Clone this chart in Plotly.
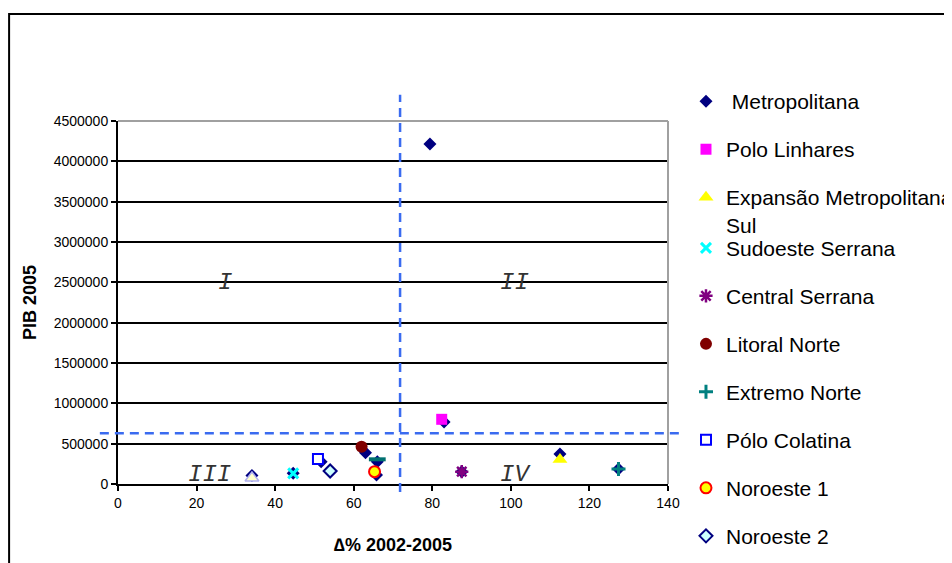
import plotly.graph_objects as go

# ---------------- data ----------------
regions = ["Metropolitana", "Polo Linhares", "Expansão Metropolitana Sul",
           "Sudoeste Serrana", "Central Serrana", "Litoral Norte",
           "Extremo Norte", "Pólo Colatina", "Noroeste 1", "Noroeste 2",
           "Polo Cachoeiro", "Caparaó"]

# series "Metropolitana": one navy diamond per region
metro_x = [79.4, 83.0, 112.5, 44.6, 87.5, 63.0, 127.4, 51.7, 65.8, 54.0, 34.1, 66.0]
metro_y = [4215000, 770000, 372000, 132000, 153000, 388000, 186000, 277000,
           112000, 161000, 105000, 277000]

# single-point series, one per region (index 1..11)
region_x = [79.4, 82.4, 112.5, 44.6, 87.5, 62.0, 127.4, 50.9, 65.3, 54.0, 34.1, 66.0]
region_y = [4215000, 802000, 304000, 132000, 153000, 462000, 186000, 310000,
            153000, 161000, 74000, 306000]

# reference (mean) lines
x_ref = 71.8
y_ref = 628000

# quadrant labels
quad_text = ["I", "II", "III", "IV"]
quad_x = [27.2, 101.0, 23.4, 101.3]
quad_y = [2500000, 2500000, 120000, 120000]

x_range = [0, 140]
y_range = [0, 4500000]

# ---------------- styles ----------------
FONT = "Liberation Sans, Arial, sans-serif"
legend_names = ["\u00a0Metropolitana", "Polo Linhares", "Expansão Metropolitana<br>Sul",
                "Sudoeste Serrana", "Central Serrana", "Litoral Norte",
                "Extremo Norte", "Pólo Colatina", "Noroeste 1", "Noroeste 2",
                "Polo Cachoeiro", "Caparaó"]
markers = [
    dict(symbol="diamond", size=10, color="#000080"),
    dict(symbol="square", size=11, color="#FF00FF"),
    dict(symbol="triangle-up", size=13, color="#FFFF00"),
    dict(symbol="x-thin", size=10, color="#00FFFF", line=dict(color="#00FFFF", width=3)),
    dict(symbol="asterisk", size=11, color="#800080", line=dict(color="#800080", width=2.5)),
    dict(symbol="circle", size=12, color="#800000"),
    dict(symbol="cross-thin", size=10, color="#008080", line=dict(color="#008080", width=3)),
    dict(symbol="square", size=10, color="#FFFFFF", line=dict(color="#0000FF", width=2)),
    dict(symbol="circle", size=11, color="#FFFF00", line=dict(color="#FF0000", width=2)),
    dict(symbol="diamond", size=10, color="#CCFFFF", line=dict(color="#000080", width=2)),
    dict(symbol="triangle-up", size=12, color="#FFFFCC", line=dict(color="#B0B0F0", width=1.5)),
    dict(symbol="line-ew", size=12, color="#007070", line=dict(color="#007070", width=4)),
]

fig = go.Figure()

# Metropolitana series (all regions, drawn underneath)
fig.add_trace(go.Scatter(
    x=metro_x, y=metro_y, mode="markers", name=legend_names[0],
    legendgroup="g0", legend="legend", marker=markers[0], cliponaxis=False))

for i in range(1, len(regions)):
    fig.add_trace(go.Scatter(
        x=[region_x[i]], y=[region_y[i]], mode="markers", name=legend_names[i],
        legendgroup="g%d" % i, legend="legend" if i < 3 else "legend2",
        marker=markers[i], cliponaxis=False, showlegend=i < 10))

# paper-coordinate helpers derived from the axis ranges
def xp(v):
    return (v - x_range[0]) / (x_range[1] - x_range[0])

def yp(v):
    return (v - y_range[0]) / (y_range[1] - y_range[0])

shapes = [
    # plot-area border (top, right) in grey
    dict(type="line", xref="paper", yref="paper", x0=0, x1=1, y0=1, y1=1,
         line=dict(color="#A0A0A0", width=2), layer="above"),
    dict(type="line", xref="paper", yref="paper", x0=1, x1=1, y0=0, y1=1,
         line=dict(color="#A0A0A0", width=2), layer="above"),
    # dashed reference lines
    dict(type="line", xref="paper", yref="paper", x0=xp(x_ref), x1=xp(x_ref),
         y0=-0.022, y1=1.072, line=dict(color="#3A6BF0", width=2.5, dash="9px,6px")),
    dict(type="line", xref="paper", yref="paper", x0=-0.033, x1=1.022,
         y0=yp(y_ref), y1=yp(y_ref), line=dict(color="#3A6BF0", width=2.5, dash="9px,6px")),
    # chart-area border
    dict(type="rect", xref="paper", yref="paper", x0=-0.198, x1=2.0, y0=-1.0, y1=1.2948,
         line=dict(color="#000000", width=2), fillcolor="rgba(0,0,0,0)"),
]

annotations = [
    dict(x=qx, y=qy, xref="x", yref="y", text="<i>%s</i>" % t, showarrow=False,
         font=dict(family="Liberation Mono, Courier New, monospace", size=24, color="#333333"),
         xanchor="center", yanchor="middle")
    for t, qx, qy in zip(quad_text, quad_x, quad_y)
]

legend_style = dict(xanchor="left", yanchor="top",
                    font=dict(family=FONT, size=21, color="#000000"),
                    tracegroupgap=17.7, itemsizing="trace", valign="top",
                    bgcolor="rgba(0,0,0,0)")

fig.update_layout(
    width=952, height=563,
    # the page body adds an 8px offset, compensated in the margins
    margin=dict(l=110, r=292, t=113, b=87, autoexpand=False),
    paper_bgcolor="white", plot_bgcolor="white",
    font=dict(family=FONT, color="#000000"),
    shapes=shapes, annotations=annotations,
    legend=dict(x=1.0327, y=1.110, **legend_style),
    legend2=dict(x=1.0327, y=0.706, **legend_style),
    showlegend=True,
)

fig.update_xaxes(
    range=x_range, dtick=20, tick0=0, showgrid=False, zeroline=False,
    showline=True, linecolor="#000000", linewidth=2,
    ticks="outside", ticklen=5, tickwidth=1.5, tickcolor="#000000",
    tickfont=dict(family=FONT, size=14, color="#000000"),
    title=dict(text="<b>∆% 2002-2005</b>", font=dict(family=FONT, size=18, color="#000000"), standoff=29),
)
fig.update_yaxes(
    range=y_range, dtick=500000, tick0=0, tickformat="d",
    showgrid=True, gridcolor="#000000", gridwidth=1.6, zeroline=False,
    showline=True, linecolor="#000000", linewidth=2,
    ticks="outside", ticklen=5, tickwidth=1.5, tickcolor="#000000",
    tickfont=dict(family=FONT, size=14, color="#000000"),
    title=dict(text="<b>PIB 2005</b>", font=dict(family=FONT, size=18, color="#000000"), standoff=12),
)

fig.write_html("out.html")
